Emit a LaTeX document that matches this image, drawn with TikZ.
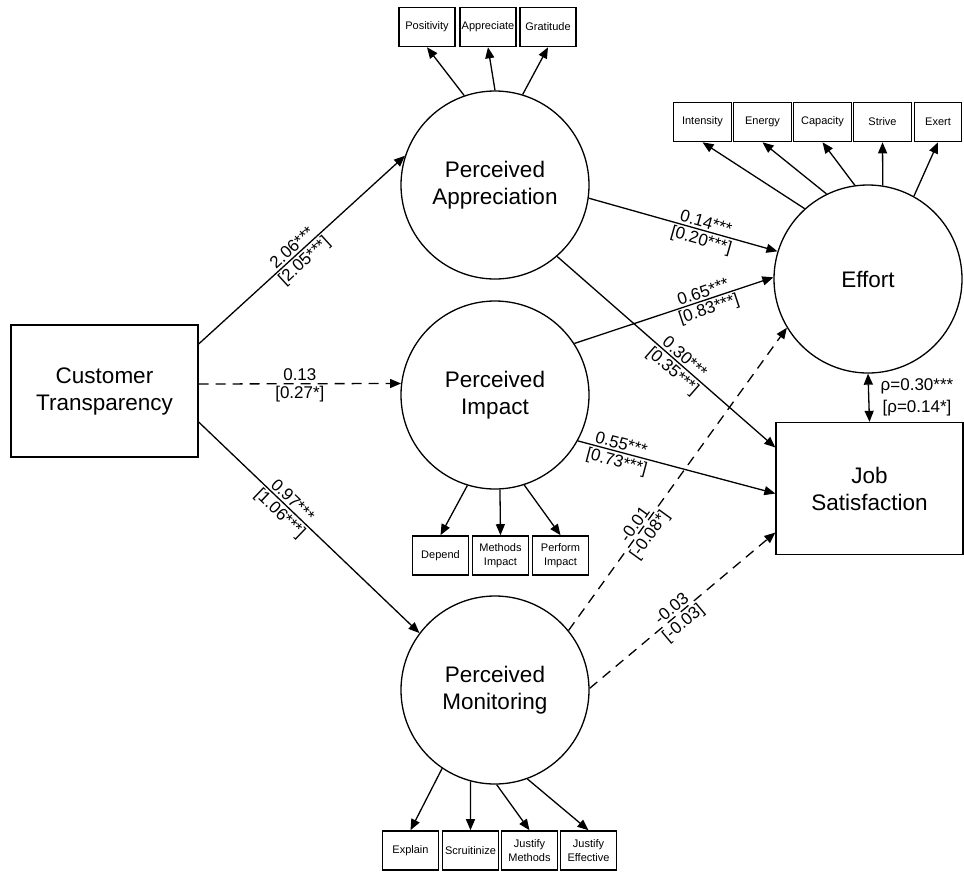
\documentclass[tikz,border=0pt]{standalone}
\usepackage{fontspec}
\setmainfont{Liberation Sans}
\usetikzlibrary{arrows.meta,positioning,calc}

\begin{document}
\begin{tikzpicture}[x=1pt,y=-1pt,
    latent/.style={draw,circle,line width=1.3pt,minimum size=188pt,inner sep=0pt,align=center,font=\fontsize{22.5}{27}\selectfont},
    observed/.style={draw,rectangle,line width=1.3pt,minimum width=187pt,minimum height=132pt,align=center,font=\fontsize{22.5}{27}\selectfont},
    indicator/.style={draw,rectangle,line width=1.6pt,minimum width=56pt,minimum height=39pt,inner sep=1pt,align=center,font=\fontsize{11}{13.5}\selectfont},
    effect/.style={line width=1.3pt,-{Triangle[length=11pt,width=9pt]}},
    nseffect/.style={effect,dash pattern=on 10pt off 7pt},
    covar/.style={line width=1.3pt,{Triangle[length=11pt,width=9pt]}-{Triangle[length=11pt,width=9pt]}},
    coef/.style={font=\fontsize{17}{20}\selectfont,sloped,inner sep=2pt},
  ]
  \useasboundingbox (0,0) rectangle (964,871);

  % constructs
  \node[observed] (ct) at (104.5,391) {Customer\\Transparency};
  \node[latent] (appr) at (495,185) {Perceived\\Appreciation};
  \node[latent] (imp) at (495,395) {Perceived\\Impact};
  \node[latent] (mon) at (495,690) {Perceived\\Monitoring};
  \node[latent] (eff) at (868,279) {Effort};
  \node[observed] (js) at (869.5,488.5) {Job\\Satisfaction};

  % indicators
  \foreach \name/\txt/\x in {pos/Positivity/427, app/Appreciate/488, gra/Gratitude/548}
    \node[indicator] (\name) at (\x,27) {\txt};
  \foreach \name/\txt/\x in {int/Intensity/702.5, ene/Energy/762.5, cap/Capacity/822.5, str/Strive/882.5}
    \node[indicator,minimum width=58pt] (\name) at (\x,122) {\txt};
  \node[indicator,minimum width=47pt] (exe) at (938,122) {Exert};
  \foreach \name/\txt/\x in {dep/Depend/440.5, mi/{Methods\\Impact}/500.5, pi/{Perform\\Impact}/560.5}
    \node[indicator] (\name) at (\x,555.5) {\txt};
  \foreach \name/\txt/\x in {exp/Explain/410.5, scr/Scruitinize/470.5, jm/{Justify\\Methods}/529.5, je/{Justify\\Effective}/588.5}
    \node[indicator] (\name) at (\x,850.5) {\txt};

  % loadings
  \foreach \name/\ang in {pos/109, app/90, gra/73}
    \draw[effect] (appr.\ang) -- (\name.south);
  \foreach \name/\ang in {int/132, ene/116, cap/98, str/81, exe/61}
    \draw[effect] (eff.\ang) -- (\name.south);
  \foreach \name/\ang in {dep/253, mi/273, pi/288}
    \draw[effect] (imp.\ang) -- (\name.north);
  \foreach \name/\ang in {exp/236, scr/255, jm/271, je/290}
    \draw[effect] (mon.\ang) -- (\name.north);

  % structural paths
  \draw[effect] ($(ct.east)+(0,-47)$) -- (appr.162)
    node[coef,pos=0.48,above] (ca1) {2.06***}
    node[coef,pos=0.48,below] (ca2) {[2.05***]};
  \draw[nseffect] ($(ct.east)+(0,-7)$) -- (imp.173)
    node[coef,pos=0.5,above] (ci1) {0.13}
    node[coef,pos=0.5,below] (ci2) {[0.27*]};
  \draw[effect] ($(ct.east)+(0,31)$) -- (mon.143)
    node[coef,pos=0.4,above] (cm1) {0.97***}
    node[coef,pos=0.4,below] (cm2) {[1.06***]};
  \draw[effect] (appr.-8) -- (eff.163)
    node[coef,pos=0.61,above] (ae1) {0.14***}
    node[coef,pos=0.61,below] (ae2) {[0.20***]};
  \draw[effect] (imp.33) -- (eff.179)
    node[coef,pos=0.66,above] (ie1) {0.65***}
    node[coef,pos=0.66,below] (ie2) {[0.83***]};
  \draw[effect] (appr.-49) -- ($(js.west)+(0,-41)$)
    node[coef,pos=0.56,above] (aj1) {0.30***}
    node[coef,pos=0.56,below] (aj2) {[0.35***]};
  \draw[effect] (imp.-29) -- ($(js.west)+(0,5)$)
    node[coef,pos=0.21,above] (ij1) {0.55***}
    node[coef,pos=0.21,below] (ij2) {[0.73***]};
  \draw[nseffect] (mon.39) -- (eff.211)
    node[coef,pos=0.335,above] (me1) {-0.01}
    node[coef,pos=0.335,below] (me2) {[-0.08*]};
  \draw[nseffect] (mon.1) -- ($(js.west)+(0,44)$)
    node[coef,pos=0.47,above] (mj1) {-0.03}
    node[coef,pos=0.47,below] (mj2) {[-0.03]};

  % residual correlation
  \draw[covar] (eff.south) -- (js.north)
    node[midway,right=8pt,align=center,font=\fontsize{17}{22}\selectfont] (rho) {ρ=0.30***\\{}[ρ=0.14*]};
\end{tikzpicture}
\end{document}
